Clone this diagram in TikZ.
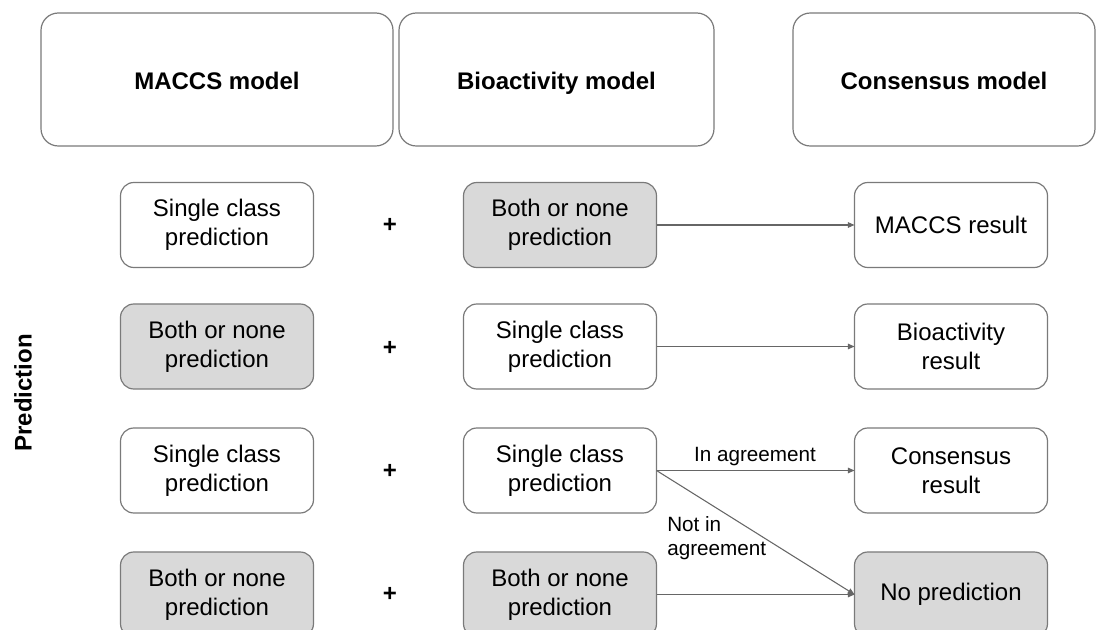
\documentclass[tikz,border=0pt]{standalone}
\usepackage{fontspec}
\setmainfont{Liberation Sans}
\usetikzlibrary{arrows.meta}
\definecolor{edgegray}{HTML}{7A7A7A}
\definecolor{linegray}{HTML}{666666}
\definecolor{boxgray}{HTML}{D9D9D9}
\begin{document}
\begin{tikzpicture}[x=0.75pt,y=-0.75pt,
  header/.style={draw=edgegray, line width=0.9pt, rounded corners=13pt, fill=white,
    minimum width=#1, minimum height=99.75pt, inner sep=0pt, outer sep=0pt,
    text height=17pt, text depth=1.5pt,
    font=\fontsize{18}{21.75}\selectfont\bfseries},
  outcome/.style={draw=edgegray, line width=0.9pt, rounded corners=10pt, fill=white,
    minimum width=144.75pt, minimum height=63.75pt, inner sep=0pt, outer sep=0pt,
    align=center, font=\fontsize{18}{21.75}\selectfont},
  shaded/.style={outcome, fill=boxgray},
  plus/.style={font=\fontsize{18}{21.75}\selectfont\bfseries, inner sep=0pt},
  link/.style={draw=linegray, line width=0.8pt, -{Triangle[length=5pt,width=4.2pt]}},
  lbl/.style={font=\fontsize{15.5}{18}\selectfont, inner sep=0pt, align=left}]
\useasboundingbox (0,0) rectangle (1097,630);
\clip (0,0) rectangle (1097,630);

% column headings
\node[header=264pt] (hm) at (217,79.5) {MACCS model};
\node[header=236.25pt] (hb) at (556.5,79.5) {Bioactivity model};
\node[header=226.5pt] (hc) at (944,79.5) {Consensus model};

% side label
\node[rotate=90, font=\fontsize{18}{21.75}\selectfont\bfseries, inner sep=0pt] (side) at (23,393) {Prediction};

% row 1
\node[outcome] (m1) at (217,225) {Single class\\prediction};
\node[plus] (p1) at (390,225) {+};
\node[shaded] (b1) at (560,225) {Both or none\\prediction};
\node[outcome] (c1) at (951,225) {MACCS result};

% row 2
\node[shaded] (m2) at (217,346.5) {Both or none\\prediction};
\node[plus] (p2) at (390,348) {+};
\node[outcome] (b2) at (560,346.5) {Single class\\prediction};
\node[outcome] (c2) at (951,346.5) {Bioactivity\\result};

% row 3
\node[outcome] (m3) at (217,470.5) {Single class\\prediction};
\node[plus] (p3) at (390,471) {+};
\node[outcome] (b3) at (560,470.5) {Single class\\prediction};
\node[outcome] (c3) at (951,470.5) {Consensus\\result};

% row 4
\node[shaded] (m4) at (217,594.5) {Both or none\\prediction};
\node[plus] (p4) at (390,594) {+};
\node[shaded] (b4) at (560,594.5) {Both or none\\prediction};
\node[shaded] (c4) at (951,594.5) {No prediction};

% connectors
\draw[link] (b1.east) -- (c1.west);
\draw[link] (b2.east) -- (c2.west);
\draw[link] (b3.east) -- (c3.west);
\draw[link] (b3.east) -- (c4.west);
\draw[link] (b4.east) -- (c4.west);

% connector labels
\node[lbl, anchor=base] (agree) at (755,462) {In agreement};
\node[lbl, anchor=north west] (disagree) at (667,516) {Not in\\agreement};
\end{tikzpicture}
\end{document}
